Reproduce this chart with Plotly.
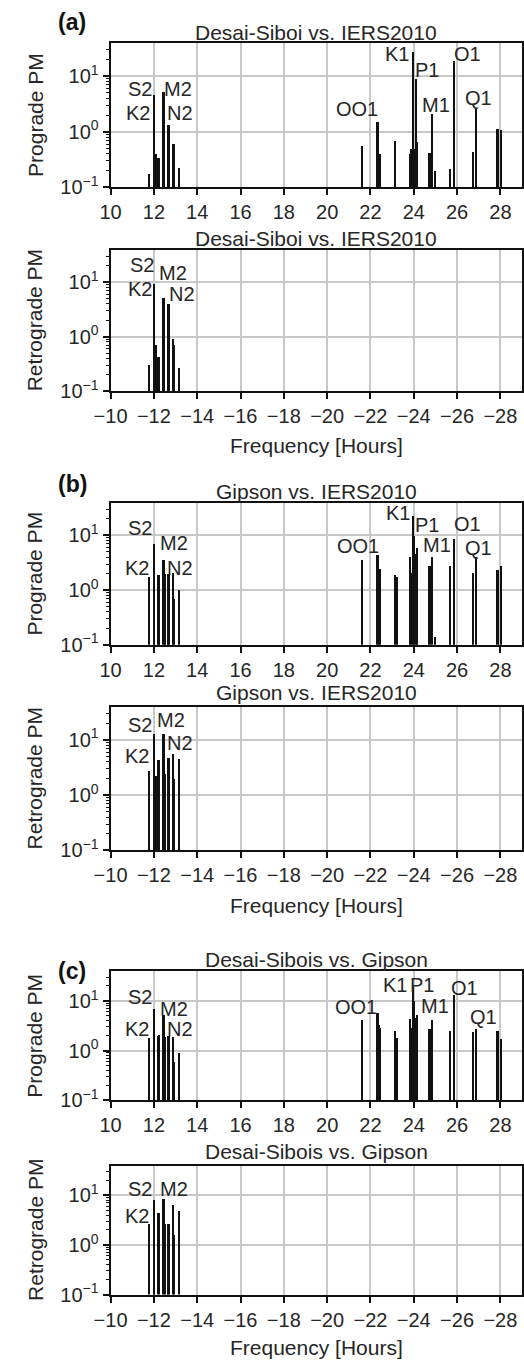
import plotly.graph_objects as go

W, H = 524, 1368

# Tidal periods (hours) of the constituents shown as stems
SD_PERIODS = [11.754, 11.967, 12.000, 12.063, 12.192, 12.222, 12.421,
              12.486, 12.626, 12.658, 12.872, 12.905, 13.127]
DI_PERIODS = [21.578, 22.306, 22.360, 22.420, 23.098, 23.207, 23.804,
              23.869, 23.934, 24.000, 24.066, 24.132, 24.709, 24.833,
              24.950, 25.668, 25.819, 26.723, 26.868, 27.848, 28.006]

# (a) Desai-Sibois vs. IERS2010
A_PRO_SD = [0.18, 2.2, 4.7, 0.40, 0.35, 0.15, 5.2, None, 0.20, 1.37, 0.60, 0.60, 0.23]
A_PRO_DI = [0.56, 1.5, 0.22, 0.40, 0.69, None, 0.40, 0.49, 28.0, 0.50, 8.9,
            0.66, 0.42, 2.15, 0.20, 0.22, 19.0, 0.44, 2.6, 1.15, 1.08]
A_RET_SD = [0.31, 3.7, 9.5, 0.72, 0.43, None, 5.2, None, 0.72, 4.1, 0.93, 0.70, 0.27]

# (b) Gipson vs. IERS2010
B_PRO_SD = [1.8, 4.9, 7.2, None, 1.9, 1.9, 3.6, 2.0, 0.65, 2.0, 2.1, 0.70, 1.0]
B_PRO_DI = [3.6, 4.4, 1.9, 2.5, 1.9, 1.8, 4.1, 2.1, 23.5, 9.8, 4.6,
            6.1, 2.8, 4.1, 0.14, 2.8, 8.9, 2.1, 4.1, 2.4, 2.8]
B_RET_SD = [2.8, 7.4, 12.7, 2.3, 4.3, 2.1, 13.0, 2.5, 1.4, 4.7, 5.6, 2.0, 4.5]

# (c) Desai-Sibois vs. Gipson
C_PRO_SD = [1.75, 0.8, 7.0, None, 2.0, 2.1, 5.3, 1.9, 0.55, 2.0, 1.85, 0.6, 0.9]
C_PRO_DI = [4.1, 5.6, 3.2, 2.9, 2.5, 1.8, 4.3, 2.8, 19.0, 9.8, 4.6,
            5.3, 2.7, 4.1, None, 2.5, 12.9, 2.4, 2.7, 2.5, 1.7]
C_RET_SD = [2.7, 8.2, 7.0, None, 4.4, None, 8.6, 2.7, 1.3, 2.7, 6.6, 1.6, 5.0]

TITLE_A = "Desai-Siboi vs. IERS2010"
TITLE_B = "Gipson vs. IERS2010"
TITLE_C = "Desai-Sibois vs. Gipson"

# log-axis ticks
Y_TICKVALS = [0.1, 1, 10]
Y_TICKTEXT = ["10<sup>\u22121</sup>", "10<sup>0</sup>", "10<sup>1</sup>"]

# constituent name tags: (name, period position, log10 height)
TAGS_PRO = {
    "a": [("S2", 11.38, 0.77), ("K2", 11.26, 0.33), ("M2", 13.13, 0.77), ("N2", 13.22, 0.33),
          ("OO1", 21.39, 0.40), ("K1", 23.21, 1.40), ("P1", 24.59, 1.11), ("M1", 25.04, 0.48),
          ("O1", 26.49, 1.40), ("Q1", 27.00, 0.61)],
    "b": [("S2", 11.37, 1.14), ("K2", 11.22, 0.41), ("M2", 12.93, 0.86), ("N2", 13.22, 0.41),
          ("OO1", 21.42, 0.80), ("K1", 23.25, 1.41), ("P1", 24.59, 1.19), ("M1", 25.07, 0.82),
          ("O1", 26.49, 1.20), ("Q1", 27.00, 0.77)],
    "c": [("S2", 11.36, 1.07), ("K2", 11.21, 0.44), ("M2", 12.91, 0.84), ("N2", 13.19, 0.44),
          ("OO1", 21.33, 0.87), ("K1", 23.15, 1.32), ("P1", 24.36, 1.32), ("M1", 24.96, 0.90),
          ("O1", 26.33, 1.27), ("Q1", 27.21, 0.67)],
}
TAGS_RET = {
    "a": [("S2", 11.44, 1.32), ("M2", 12.86, 1.18), ("K2", 11.37, 0.87), ("N2", 13.28, 0.78)],
    "b": [("S2", 11.37, 1.27), ("M2", 12.78, 1.36), ("K2", 11.22, 0.70), ("N2", 13.22, 0.94)],
    "c": [("S2", 11.37, 1.12), ("M2", 12.93, 1.12), ("K2", 11.22, 0.59)],
}

FONT = "Liberation Sans, Arial, sans-serif"
TXT = "#262626"
INK = "#111111"
GRID = "#c8c8c8"

# panel frames in pixels: (top, bottom)
panels = [
    dict(key="a", side="pro", top=43.0, bottom=189.0, title=TITLE_A, ty=32.5,
         periods=SD_PERIODS + DI_PERIODS, vals=A_PRO_SD + A_PRO_DI),
    dict(key="a", side="ret", top=251.7, bottom=394.3, title=TITLE_A, ty=240.0,
         periods=SD_PERIODS, vals=A_RET_SD, xt=449.5),
    dict(key="b", side="pro", top=506.7, bottom=650.0, title=TITLE_B, ty=495.0,
         periods=SD_PERIODS + DI_PERIODS, vals=B_PRO_SD + B_PRO_DI),
    dict(key="b", side="ret", top=712.3, bottom=857.3, title=TITLE_B, ty=698.0,
         periods=SD_PERIODS, vals=B_RET_SD, xt=912.5),
    dict(key="c", side="pro", top=979.0, bottom=1109.3, title=TITLE_C, ty=967.5,
         periods=SD_PERIODS + DI_PERIODS, vals=C_PRO_SD + C_PRO_DI),
    dict(key="c", side="ret", top=1175.0, bottom=1305.0, title=TITLE_C, ty=1161.0,
         periods=SD_PERIODS, vals=C_RET_SD, xt=1358.5),
]
letters = [("(a)", 57, 22.5), ("(b)", 57, 488.0), ("(c)", 57, 979.0)]

X0, X1 = 96.7, 522.0
fig = go.Figure()
annotations = []
layout_axes = {}

def py(v):
    return 1 - v / H

for i, p in enumerate(panels, start=1):
    xa = "x" if i == 1 else f"x{i}"
    ya = "y" if i == 1 else f"y{i}"
    sign = 1 if p["side"] == "pro" else -1
    fig.add_trace(go.Bar(
        x=[sign * t for t in p["periods"]], y=p["vals"], width=0.1,
        marker=dict(color=INK, line=dict(width=0)),
        xaxis=xa, yaxis=ya, showlegend=False, hoverinfo="skip"))
    xkey = "xaxis" if i == 1 else f"xaxis{i}"
    ykey = "yaxis" if i == 1 else f"yaxis{i}"
    layout_axes[xkey] = dict(
        domain=[X0 / W, X1 / W], anchor=ya,
        range=[10, 29] if sign > 0 else [-10, -29],
        tick0=10 * sign, dtick=2, ticks="outside", ticklen=6, tickwidth=1.5,
        tickcolor=INK, showline=True, linecolor=INK, linewidth=2, mirror=True,
        showgrid=True, gridcolor=GRID, gridwidth=1.5, zeroline=False,
        tickfont=dict(family=FONT, size=20, color=TXT))
    layout_axes[ykey] = dict(
        domain=[py(p["bottom"]), py(p["top"])], anchor=xa, type="log",
        range=[-1, 1.6], tickmode="array", tickvals=Y_TICKVALS, ticktext=Y_TICKTEXT,
        ticks="outside", ticklen=6, tickwidth=1.5, tickcolor=INK,
        minor=dict(ticks="outside", ticklen=3, tickwidth=1, tickcolor=INK,
                   dtick="D1", showgrid=False),
        showline=True, linecolor=INK, linewidth=2, mirror=True,
        showgrid=True, gridcolor=GRID, gridwidth=1.5, zeroline=False,
        tickfont=dict(family=FONT, size=20, color=TXT))
    # panel title
    annotations.append(dict(text=p["title"], xref="paper", yref="paper",
                            x=(X0 + X1) / 2 / W, y=py(p["ty"]), showarrow=False,
                            xanchor="center", yanchor="middle",
                            font=dict(family=FONT, size=21, color=TXT)))
    # y-axis title
    annotations.append(dict(text="Prograde PM" if sign > 0 else "Retrograde PM",
                            xref="paper", yref="paper", x=18.5 / W,
                            y=py((p["top"] + p["bottom"]) / 2), textangle=-90,
                            showarrow=False, xanchor="center", yanchor="middle",
                            font=dict(family=FONT, size=21, color=TXT)))
    if sign < 0:
        annotations.append(dict(text="Frequency [Hours]", xref="paper", yref="paper",
                                x=(X0 + X1) / 2 / W, y=py(p["xt"]), showarrow=False,
                                xanchor="center", yanchor="middle",
                                font=dict(family=FONT, size=21, color=TXT)))
    tags = TAGS_PRO[p["key"]] if sign > 0 else TAGS_RET[p["key"]]
    for name, tx, tyl in tags:
        annotations.append(dict(text=name, xref=xa, yref=ya, x=sign * tx, y=tyl,
                                showarrow=False, xanchor="center", yanchor="middle",
                                font=dict(family=FONT, size=20, color=TXT)))

for txt, lx, ly in letters:
    annotations.append(dict(text=f"<b>{txt}</b>", xref="paper", yref="paper",
                            x=lx / W, y=py(ly), showarrow=False,
                            xanchor="center", yanchor="middle",
                            font=dict(family=FONT, size=23, color="#111")))

fig.update_layout(
    width=W, height=H, margin=dict(l=0, r=0, t=0, b=0),
    paper_bgcolor="white", plot_bgcolor="white",
    annotations=annotations, showlegend=False, bargap=0,
    **layout_axes)

fig.write_html("out.html")
